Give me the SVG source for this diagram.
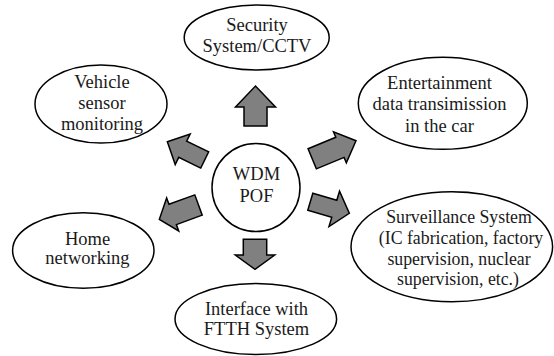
<svg xmlns="http://www.w3.org/2000/svg" width="554" height="356" viewBox="0 0 554 356">
<style>
.n{fill:#fff;stroke:#000;stroke-width:1.5}
.t{font-family:"Liberation Serif","Times New Roman",serif;font-size:18.5px;fill:#1a1a1a;text-anchor:middle}
.s{font-size:17.8px}
.a{fill:#808080;stroke:#000;stroke-width:1.5;stroke-linejoin:miter}
</style>
<rect width="554" height="356" fill="#fff"/>
<g id="connectors">
<polygon class="a" transform="translate(255.5,126) rotate(-90)" points="0,-11.5 19,-11.5 19,-20 40,0 19,20 19,11.5 0,11.5"/>
<polygon class="a" transform="translate(255,239.3) rotate(90)" points="0,-11.7 15.7,-11.7 15.7,-19.7 30,0 15.7,19.7 15.7,11.7 0,11.7"/>
<polygon class="a" transform="translate(204.7,160) rotate(206.1)" points="0,-9 24.5,-9 24.5,-17 41.6,0 24.5,17 24.5,9 0,9"/>
<polygon class="a" transform="translate(312.2,158.8) rotate(-22.45)" points="0,-10.9 30,-10.9 30,-16.8 47.4,0 30,16.8 30,10.9 0,10.9"/>
<polygon class="a" transform="translate(198.5,205) rotate(159.95)" points="0,-10.8 27.5,-10.8 27.5,-17.6 41.7,0 27.5,17.6 27.5,10.8 0,10.8"/>
<polygon class="a" transform="translate(310.3,201.7) rotate(16.56)" points="0,-8.9 25,-8.9 25,-18.5 40.7,0 25,18.5 25,8.9 0,8.9"/>
</g>
<g id="center">
<circle class="n" cx="256" cy="187.5" r="44"/>
<text class="t" x="256.5" y="180">WDM</text>
<text class="t" x="256.5" y="201.5">POF</text>
</g>
<g id="security">
<ellipse class="n" cx="256.7" cy="37.5" rx="72.5" ry="32.5"/>
<text class="t" x="257" y="31">Security</text>
<text class="t" x="257" y="52">System/CCTV</text>
</g>
<g id="vehicle">
<ellipse class="n" cx="101" cy="104" rx="66" ry="39"/>
<text class="t" x="102" y="88">Vehicle</text>
<text class="t" x="102" y="109">sensor</text>
<text class="t" x="102" y="130">monitoring</text>
</g>
<g id="entertainment">
<ellipse class="n" cx="442.8" cy="103.3" rx="84.5" ry="46"/>
<text class="t" x="439.5" y="88.5">Entertainment</text>
<text class="t" x="439.5" y="110">data transimission</text>
<text class="t" x="439.5" y="131.5">in the car</text>
</g>
<g id="home">
<ellipse class="n" cx="83.3" cy="250.5" rx="70.7" ry="37.8"/>
<text class="t" x="87.5" y="245">Home</text>
<text class="t" x="87.5" y="264">networking</text>
</g>
<g id="surveillance">
<ellipse class="n" cx="451.8" cy="246.7" rx="100.8" ry="55"/>
<text class="t s" x="459" y="223">Surveillance System</text>
<text class="t s" x="461" y="244">(IC fabrication, factory</text>
<text class="t s" x="459" y="265">supervision, nuclear</text>
<text class="t s" x="458" y="285">supervision, etc.)</text>
</g>
<g id="interface">
<ellipse class="n" cx="255.8" cy="319" rx="80.8" ry="35.5"/>
<text class="t" x="256.5" y="315">Interface with</text>
<text class="t" x="256.5" y="335">FTTH System</text>
</g>
</svg>
